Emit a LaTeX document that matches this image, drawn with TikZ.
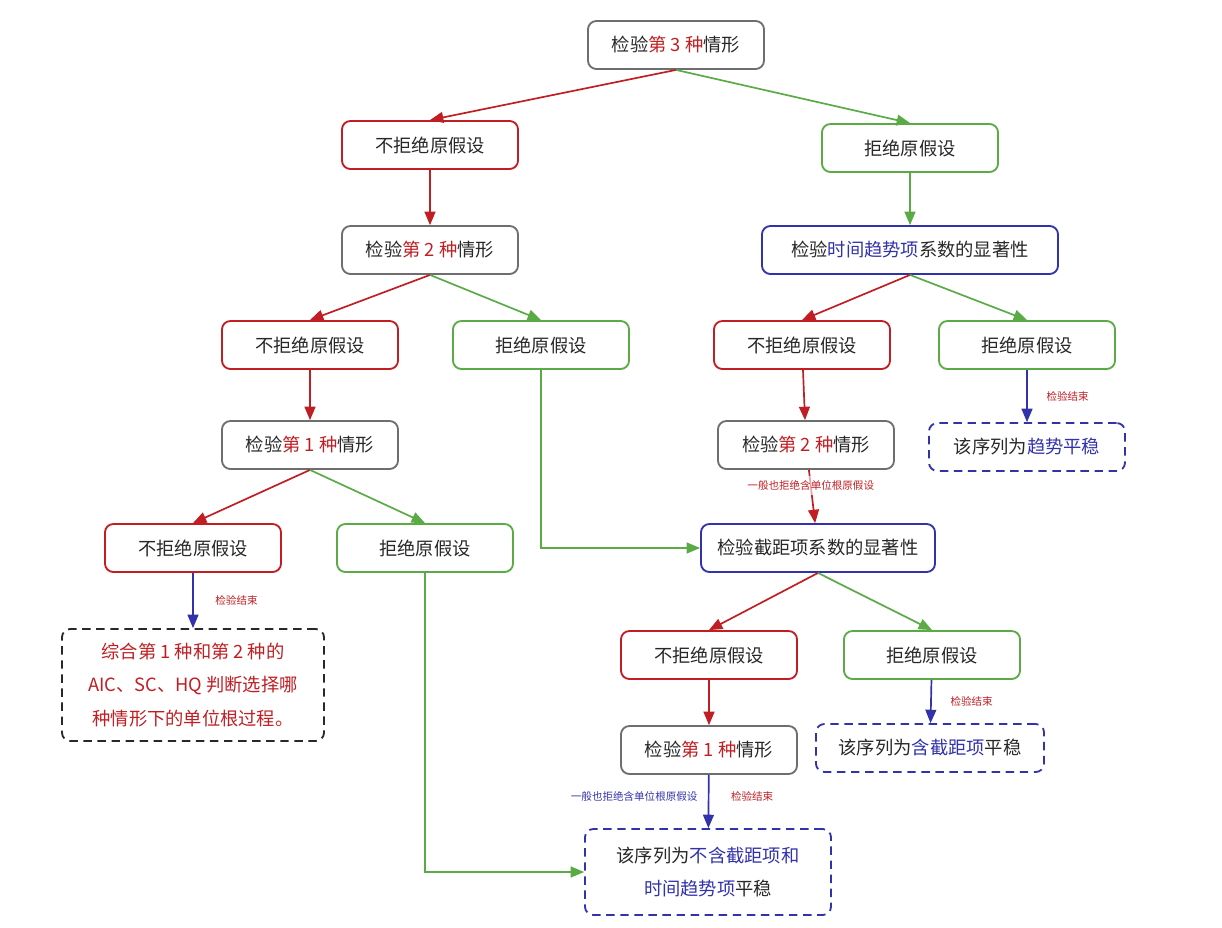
\documentclass[tikz,border=0pt]{standalone}
\usepackage{fontspec}
\setmainfont{Noto Sans CJK SC}
\usepackage{tikz}
\usetikzlibrary{arrows, positioning, calc}
\definecolor{cred}{RGB}{192,30,35}
\definecolor{cgreen}{RGB}{90,170,70}
\definecolor{cblue}{RGB}{50,50,170}
\definecolor{cgray}{RGB}{110,110,110}
\definecolor{ctext}{RGB}{40,40,40}
\tikzstyle{box} = [rectangle, rounded corners=6pt, line width=1.3pt, text centered, text=ctext, font=\fontsize{13}{16}\selectfont, minimum height=1.2cm]
\tikzstyle{test} = [box, draw=cgray, minimum width=4.4cm]
\tikzstyle{keep} = [box, draw=cred, minimum width=4.4cm]
\tikzstyle{reject} = [box, draw=cgreen, minimum width=4.4cm]
\tikzstyle{signif} = [box, draw=cblue]
\tikzstyle{result} = [box, draw=cblue, dashed, dash pattern=on 6pt off 4pt]
\tikzstyle{arrow} = [line width=1.2pt,->,>=triangle 45]
\tikzstyle{note} = [font=\fontsize{7.5}{9}\selectfont]
\newcommand{\hl}[1]{\textcolor{cred}{#1}}
\newcommand{\hb}[1]{\textcolor{cblue}{#1}}

\begin{document}
\begin{tikzpicture}[x=0.025cm, y=-0.025cm]
\useasboundingbox (0,0) rectangle (1222,927);

% Nodes
\node (t3) [test] at (676,45) {检验\hl{第 3 种}情形};
\node (n1) [keep] at (430,145) {不拒绝原假设};
\node (r1) [reject] at (910,148) {拒绝原假设};
\node (t2a) [test] at (430,250) {检验\hl{第 2 种}情形};
\node (trend) [signif, minimum width=7.4cm] at (910,250) {检验\hb{时间趋势项}系数的显著性};
\node (n2) [keep] at (310,345) {不拒绝原假设};
\node (r2) [reject] at (541,345) {拒绝原假设};
\node (n3) [keep] at (802,345) {不拒绝原假设};
\node (r3) [reject] at (1027,345) {拒绝原假设};
\node (t1a) [test] at (310,445) {检验\hl{第 1 种}情形};
\node (t2b) [test] at (806,445) {检验\hl{第 2 种}情形};
\node (end1) [result, minimum width=4.9cm] at (1027,447) {该序列为\hb{趋势平稳}};
\node (n4) [keep] at (193,548) {不拒绝原假设};
\node (r4) [reject] at (425,548) {拒绝原假设};
\node (icpt) [signif, minimum width=5.85cm] at (818,548) {检验截距项系数的显著性};
\node (mix) [result, draw=ctext, minimum width=6.55cm, minimum height=2.8cm, text=cred, align=center, font=\fontsize{13}{24}\selectfont] at (193,685) {综合第 1 种和第 2 种的\\AIC、SC、HQ 判断选择哪\\种情形下的单位根过程。};
\node (n5) [keep] at (709,655) {不拒绝原假设};
\node (r5) [reject] at (932,655) {拒绝原假设};
\node (t1b) [test] at (709,750) {检验\hl{第 1 种}情形};
\node (end2) [result, minimum width=5.7cm] at (930,748) {该序列为\hb{含截距项}平稳};
\node (end3) [result, minimum width=6.15cm, minimum height=2.15cm, align=center, font=\fontsize{13}{24}\selectfont] at (708,872) {该序列为\hb{不含截距项和}\\\hb{时间趋势项}平稳};

% Arrows
\draw [arrow, cred] (t3.south) -- (n1.north);
\draw [arrow, cgreen] (t3.south) -- (r1.north);
\draw [arrow, cred] (n1) -- (t2a);
\draw [arrow, cgreen] (r1) -- (trend);
\draw [arrow, cred] (t2a.south) -- (n2.north);
\draw [arrow, cgreen] (t2a.south) -- (r2.north);
\draw [arrow, cred] (trend.south) -- (n3.north);
\draw [arrow, cgreen] (trend.south) -- (r3.north);
\draw [arrow, cred] (n2) -- (t1a);
\draw [arrow, cred] (n3) -- (t2b);
\draw [arrow, cblue] (r3) -- node[note, right=10pt, text=cred] {检验结束} (end1);
\draw [arrow, cred] (t1a.south) -- (n4.north);
\draw [arrow, cgreen] (t1a.south) -- (r4.north);
\draw [arrow, cred] (t2b) -- node[note, pos=0.3, fill=white, fill opacity=0.6, text opacity=1] {一般也拒绝含单位根原假设} (icpt);
\draw [arrow, cgreen] (r2.south) |- (icpt.west);
\draw [arrow, cblue] (n4) -- node[note, right=12pt, text=cred] {检验结束} (mix);
\draw [arrow, cred] (icpt.south) -- (n5.north);
\draw [arrow, cgreen] (icpt.south) -- (r5.north);
\draw [arrow, cred] (n5) -- (t1b);
\draw [arrow, cblue] (r5) -- node[note, right=10pt, text=cred] {检验结束} (end2);
\draw [arrow, cblue] (t1b) -- node[note, left=4pt, pos=0.4] {一般也拒绝含单位根原假设} node[note, right=12pt, pos=0.4, text=cred] {检验结束} (end3);
\draw [arrow, cgreen] (r4.south) |- (end3.west);

\end{tikzpicture}
\end{document}
